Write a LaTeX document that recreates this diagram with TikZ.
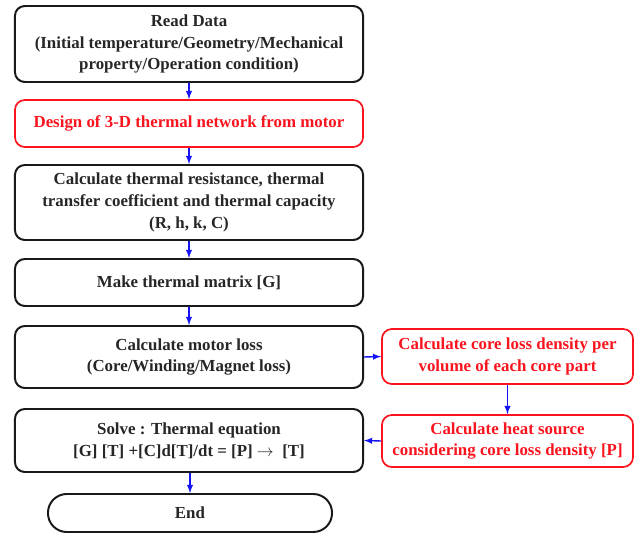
\documentclass[tikz,border=0pt]{standalone}
\usepackage{fontspec}
\setmainfont{Liberation Serif}
\usetikzlibrary{shapes.geometric, arrows}
\usepackage{xcolor}
\definecolor{boxred}{RGB}{250,20,30}
\definecolor{flowblue}{RGB}{20,20,245}

\tikzset{
  stepbox/.style={draw=black!90, line width=1.4pt, rounded corners=7pt, minimum width=8.7cm,
    align=center, inner sep=0pt, font=\fontsize{12}{15.5}\selectfont\bfseries, text=black!85},
  redbox/.style={stepbox, draw=boxred, text=boxred, line width=1.2pt},
  flow/.style={-latex, flowblue, line width=1pt}
}

\begin{document}
\begin{tikzpicture}[x=0.025cm, y=-0.025cm]
    \useasboundingbox (0,0) rectangle (640,533);

    % Main column
    \node[stepbox, minimum height=1.9cm] (read) at (189,44)
      {Read Data\\(Initial temperature/Geometry/Mechanical\\property/Operation condition)};
    \node[redbox, minimum height=1.175cm] (design) at (189,123.5)
      {Design of 3-D thermal network from motor};
    \node[stepbox, minimum height=1.875cm] (resist) at (189,202.5)
      {Calculate thermal resistance, thermal\\transfer coefficient and thermal capacity\\(R, h, k, C)};
    \node[stepbox, minimum height=1.175cm] (matrix) at (189,282.5)
      {Make thermal matrix [G]};
    \node[stepbox, minimum height=1.55cm] (loss) at (189,357)
      {Calculate motor loss\\(Core/Winding/Magnet loss)};
    \node[stepbox, minimum height=1.575cm] (solve) at (189,440.5)
      {Solve : Thermal equation\\{}[G] [T] +[C]d[T]/dt = [P] $\rightarrow$ \ [T]};
    \node[stepbox, minimum width=7.1cm, minimum height=0.95cm, rounded corners=0.47cm] (end) at (190,513)
      {End};

    % Core loss branch
    \node[redbox, minimum width=6.275cm, minimum height=1.375cm] (density) at (507.5,356.5)
      {Calculate core loss density per\\volume of each core part};
    \node[redbox, minimum width=6.275cm, minimum height=1.3cm] (source) at (507.5,441)
      {Calculate heat source\\considering core loss density [P]};

    % Connectors
    \draw[flow] (read) -- (design);
    \draw[flow] (design) -- (resist);
    \draw[flow] (resist) -- (matrix);
    \draw[flow] (matrix) -- (loss);
    \draw[flow] (loss.east) -- (density.west);
    \draw[flow] (density) -- (source);
    \draw[flow] (source.west) -- (solve.east);
    \draw[flow] (solve.south -| end.north) -- (end.north);
  \end{tikzpicture}
\end{document}
